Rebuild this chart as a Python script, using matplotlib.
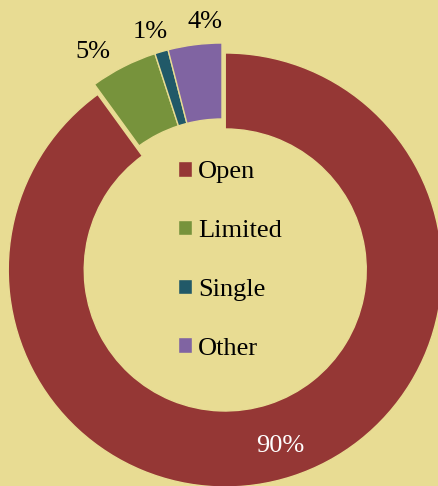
import numpy as np
import matplotlib
matplotlib.use('Agg')
import matplotlib.pyplot as plt

categories = ['Open', 'Limited', 'Single', 'Other']
shares = [90, 5, 1, 4]
pct_labels = ['90%', '5%', '1%', '4%']
colors = ['#953735', '#77933C', '#215968', '#8064A2']
explode = [10.5, 0, 0, 0]

bg = '#E8DC93'
plt.rcParams['font.family'] = ['Liberation Serif', 'DejaVu Serif']

fig = plt.figure(figsize=(4.39, 4.86), dpi=100, facecolor=bg)
ax = fig.add_axes([0, 0, 1, 1])
ax.set_facecolor(bg)

R = 217
width = 76
center = (222, 226)

wedges, _ = ax.pie(shares, colors=colors, explode=explode, radius=R, center=center,
                   startangle=90, counterclock=False, frame=True,
                   wedgeprops=dict(width=width, edgecolor=bg, linewidth=1.0))
ax.set_xlim(0, 439)
ax.set_ylim(0, 486)
ax.set_aspect('equal')
ax.axis('off')

# label placement: (angle nudge in deg, distance as fraction of R)
label_pos = [(-0.5, 0.85), (4.8, 1.13), (1.3, 1.10), (-3.2, 1.10)]
label_color = ['white', 'black', 'black', 'black']
for w, txt, (da, dist), c in zip(wedges, pct_labels, label_pos, label_color):
    mid = np.deg2rad((w.theta1 + w.theta2) / 2 + da)
    cx, cy = w.center
    ax.text(cx + dist * R * np.cos(mid), cy + dist * R * np.sin(mid), txt,
            ha='center', va='center', fontsize=19, color=c)

ax.legend(wedges, categories, loc='upper left', bbox_to_anchor=(178 / 439, 1 - 161 / 486),
          frameon=False, fontsize=19, handlelength=0.53, handleheight=0.53,
          handletextpad=0.22, labelspacing=1.39, borderpad=0, borderaxespad=0)

fig.savefig('out.png', dpi=100, facecolor=bg)
